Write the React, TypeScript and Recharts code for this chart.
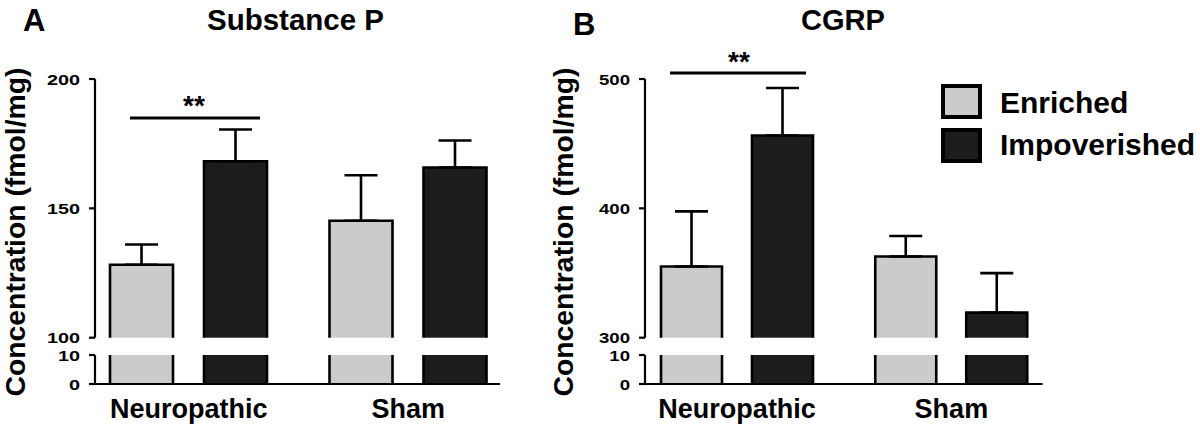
import React from "react";
import { BarChart, Bar, XAxis, YAxis, ErrorBar, Legend } from "recharts";

// groups on the x axis
const groups = ["Neuropathic", "Sham"];

// Substance P (fmol/mg), mean and upper SEM
const spEnriched = [128.2, 145.2];
const spImpoverished = [168.2, 165.8];
const spEnrichedErr = [7.8, 17.6];
const spImpoverishedErr = [12.3, 10.4];

// CGRP (fmol/mg)
const cgrpEnriched = [355, 362.8];
const cgrpImpoverished = [456.3, 319.4];
const cgrpEnrichedErr = [42.7, 15.8];
const cgrpImpoverishedErr = [36.7, 30.5];

// broken y axis tick labels
const spTicks = [100, 150, 200];
const cgrpTicks = [300, 400, 500];
const lowTicks = [0, 10];

const FONT = '"Liberation Sans", Arial, Helvetica, sans-serif';
const LIGHT = "#cbcbcb";
const DARK = "#1c1c1c";

const buildRows = (enr: number[], imp: number[], enrErr: number[], impErr: number[]) =>
  groups.map((g, i) => ({
    group: g,
    enriched: enr[i],
    impoverished: imp[i],
    enrichedErr: [0, enrErr[i]], // only the upper whisker is shown
    impoverishedErr: [0, impErr[i]],
  }));

const spData = buildRows(spEnriched, spImpoverished, spEnrichedErr, spImpoverishedErr);
const cgrpData = buildRows(cgrpEnriched, cgrpImpoverished, cgrpEnrichedErr, cgrpImpoverishedErr);

// bar with an open bottom (the axis break cuts it)
const OpenBar = (props: any) => {
  const { x, y, width, height, fill } = props;
  if (!width || !height) return null;
  return (
    <g>
      <rect x={x} y={y} width={width} height={height} fill={fill} />
      <path
        d={`M${x},${y + height}V${y}H${x + width}V${y + height}`}
        fill="none"
        stroke="#000"
        strokeWidth={2.6}
      />
    </g>
  );
};

// tick numbers in the figure are drawn wide, so stretch them horizontally
const YTick = ({ x, y, payload, stretch }: any) => (
  <g transform={`translate(${x - 9},${y + 5.5}) scale(${stretch},1)`}>
    <text x={0} y={0} textAnchor="end" fontFamily={FONT} fontWeight="bold" fontSize={15} fill="#000">
      {payload.value}
    </text>
  </g>
);

const XTick = ({ x, y, payload }: any) => (
  <text x={x} y={y} dy={34} textAnchor="middle" fontFamily={FONT} fontWeight="bold" fontSize={27} fill="#000">
    {payload.value}
  </text>
);

const LegendBoxes = ({ payload }: any) => (
  <svg width={260} height={82} style={{ display: "block" }}>
    {(payload || []).map((entry: any, i: number) => (
      <g key={entry.value} transform={`translate(0, ${i * 44})`}>
        <rect x={2} y={2} width={37} height={31} fill={entry.color} stroke="#000" strokeWidth={4} />
        <text x={59} y={i === 0 ? 28.5 : 27} fontFamily={FONT} fontWeight="bold" fontSize={30} fill="#000">
          {entry.value}
        </text>
      </g>
    ))}
  </svg>
);

interface PanelProps {
  data: any[];
  left: number;
  width: number;
  rightMargin: number;
  upperDomain: [number, number];
  upperTicks: number[];
  barSize: number;
  barGap: number;
  padding: { left: number; right: number };
  stretch: number;
  withLegend?: boolean;
}

const axisStroke = { stroke: "#000", strokeWidth: 2.2 };

const Panel: React.FC<PanelProps> = ({
  data,
  left,
  width,
  rightMargin,
  upperDomain,
  upperTicks,
  barSize,
  barGap,
  padding,
  stretch,
  withLegend,
}) => (
  <>
    {/* upper part of the broken axis */}
    <div style={{ position: "absolute", left, top: 0 }}>
      <BarChart
        width={width}
        height={360}
        data={data}
        barSize={barSize}
        barGap={barGap}
        margin={{ top: 79, right: rightMargin, bottom: 22.3, left: 0 }}
      >
        <XAxis dataKey="group" hide padding={padding} />
        <YAxis
          width={95}
          domain={upperDomain}
          ticks={upperTicks}
          interval={0}
          tickSize={6}
          tickMargin={0}
          axisLine={axisStroke}
          tickLine={axisStroke}
          tick={(p: any) => <YTick {...p} stretch={stretch} />}
        />
        {withLegend && (
          <Legend
            layout="horizontal"
            verticalAlign="middle"
            align="center"
            wrapperStyle={{ top: 84, left: 941 - left, width: 260 }}
            content={<LegendBoxes />}
          />
        )}
        <Bar dataKey="enriched" name="Enriched" fill={LIGHT} shape={OpenBar} isAnimationActive={false}>
          <ErrorBar dataKey="enrichedErr" direction="y" width={16.5} stroke="#000" strokeWidth={2.6} />
        </Bar>
        <Bar dataKey="impoverished" name="Impoverished" fill={DARK} shape={OpenBar} isAnimationActive={false}>
          <ErrorBar dataKey="impoverishedErr" direction="y" width={16.5} stroke="#000" strokeWidth={2.6} />
        </Bar>
      </BarChart>
    </div>
    {/* lower part, 0-10 */}
    <div style={{ position: "absolute", left, top: 340 }}>
      <BarChart
        width={width}
        height={89}
        data={data}
        barSize={barSize}
        barGap={barGap}
        margin={{ top: 15, right: rightMargin, bottom: 0, left: 0 }}
      >
        <XAxis
          dataKey="group"
          padding={padding}
          height={45}
          interval={0}
          tickSize={0}
          tickMargin={0}
          tickLine={false}
          axisLine={axisStroke}
          tick={<XTick />}
        />
        <YAxis
          width={95}
          domain={[0, 10]}
          ticks={lowTicks}
          allowDataOverflow
          interval={0}
          tickSize={6}
          tickMargin={0}
          axisLine={axisStroke}
          tickLine={axisStroke}
          tick={(p: any) => <YTick {...p} stretch={stretch} />}
        />
        <Bar dataKey="enriched" fill={LIGHT} shape={OpenBar} isAnimationActive={false} />
        <Bar dataKey="impoverished" fill={DARK} shape={OpenBar} isAnimationActive={false} />
      </BarChart>
    </div>
  </>
);

const txt = { fontFamily: FONT, fontWeight: "bold" as const, fill: "#000" };

export default function App() {
  return (
    <div style={{ position: "absolute", left: 0, top: 0, width: 1200, height: 429, background: "#fff" }}>
      <Panel
        data={spData}
        left={0}
        width={520}
        rightMargin={20}
        upperDomain={[100, 200]}
        upperTicks={spTicks}
        barSize={63}
        barGap={31}
        padding={{ left: -16, right: -18 }}
        stretch={1.32}
      />
      <Panel
        data={cgrpData}
        left={550}
        width={510}
        rightMargin={17.5}
        upperDomain={[300, 500]}
        upperTicks={cgrpTicks}
        barSize={61}
        barGap={30}
        padding={{ left: -15, right: -16 }}
        stretch={1.24}
        withLegend
      />
      {/* titles, axis titles and significance brackets */}
      <svg
        width={1200}
        height={429}
        style={{ position: "absolute", left: 0, top: 0, pointerEvents: "none" }}
      >
        <text x={23} y={31} fontSize={31} {...txt}>A</text>
        <text x={207} y={30} fontSize={30} textLength={177} lengthAdjust="spacingAndGlyphs" {...txt}>
          Substance P
        </text>
        <text x={573} y={35} fontSize={31} {...txt}>B</text>
        <text x={801} y={30} fontSize={30} textLength={84} lengthAdjust="spacingAndGlyphs" {...txt}>
          CGRP
        </text>

        <text
          transform="translate(25,232) rotate(-90)"
          textAnchor="middle"
          fontSize={28}
          textLength={329}
          lengthAdjust="spacingAndGlyphs"
          {...txt}
        >
          Concentration (fmol/mg)
        </text>
        <text
          transform="translate(573,232) rotate(-90)"
          textAnchor="middle"
          fontSize={28}
          textLength={329}
          lengthAdjust="spacingAndGlyphs"
          {...txt}
        >
          Concentration (fmol/mg)
        </text>

        <line x1={130} x2={260} y1={118} y2={118} stroke="#000" strokeWidth={2.8} />
        <text x={194} y={115} textAnchor="middle" fontSize={28} {...txt}>**</text>
        <line x1={670} x2={806} y1={73} y2={73} stroke="#000" strokeWidth={2.8} />
        <text x={739} y={71} textAnchor="middle" fontSize={28} {...txt}>**</text>
      </svg>
    </div>
  );
}
